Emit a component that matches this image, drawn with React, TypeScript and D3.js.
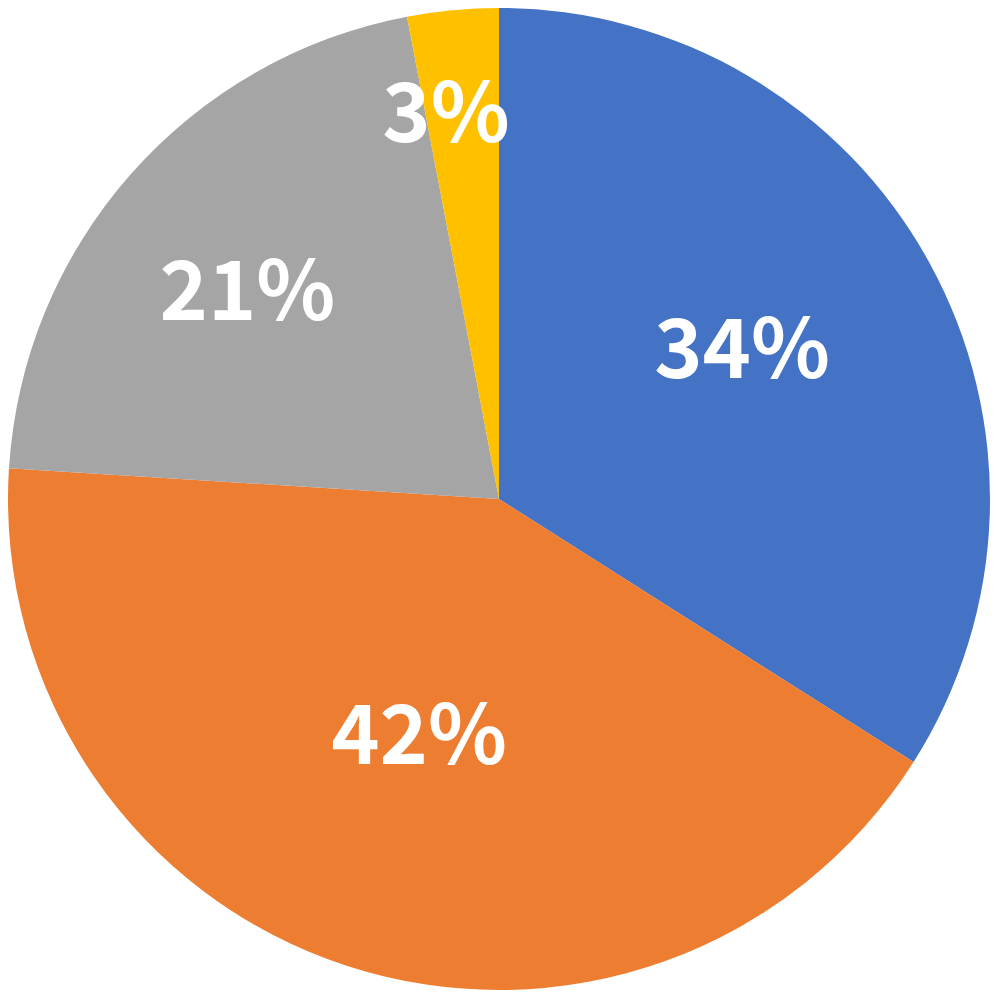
import React from "react";
import * as d3 from "d3";

const categories = ["A", "B", "C", "D"];
const values = [34, 42, 21, 3];
const colors = ["#4472C4", "#ED7D31", "#A5A5A5", "#FFC000"];

// label placement (layout only): radial distance as fraction of radius, angular shift in degrees
const labelRadiusFrac = [0.583, 0.505, 0.666, 0.796];
const labelAngleShift = [-3.1, 0.8, -1.7, -2.4];

const W = 1000;
const H = 1000;
const CX = 499;
const CY = 499;
const R = 491;
const FONT_SIZE = 82;

export default function App() {
  const total = d3.sum(values);
  const pie = d3
    .pie<number>()
    .sort(null)
    .value((d) => d);
  const arcs = pie(values);
  const arcGen = d3.arc<d3.PieArcDatum<number>>().innerRadius(0).outerRadius(R);

  return (
    <svg
      width={W}
      height={H}
      style={{ position: "absolute", left: 0, top: 0, background: "#fff" }}
    >
      <g transform={`translate(${CX},${CY})`}>
        {arcs.map((a, i) => (
          <path key={categories[i]} d={arcGen(a) || ""} fill={colors[i]} />
        ))}
        {arcs.map((a, i) => {
          const mid = (a.startAngle + a.endAngle) / 2 + (labelAngleShift[i] * Math.PI) / 180;
          const r = R * labelRadiusFrac[i];
          const x = r * Math.sin(mid);
          const y = -r * Math.cos(mid);
          const pct = Math.round((values[i] / total) * 100);
          return (
            <text
              key={"l" + categories[i]}
              x={x}
              y={y + FONT_SIZE * 0.367}
              textAnchor="middle"
              fill="#fff"
              fontFamily="'Noto Sans CJK JP', 'Noto Sans', sans-serif"
              fontWeight="bold"
              fontSize={FONT_SIZE}
            >
              {pct}%
            </text>
          );
        })}
      </g>
    </svg>
  );
}
